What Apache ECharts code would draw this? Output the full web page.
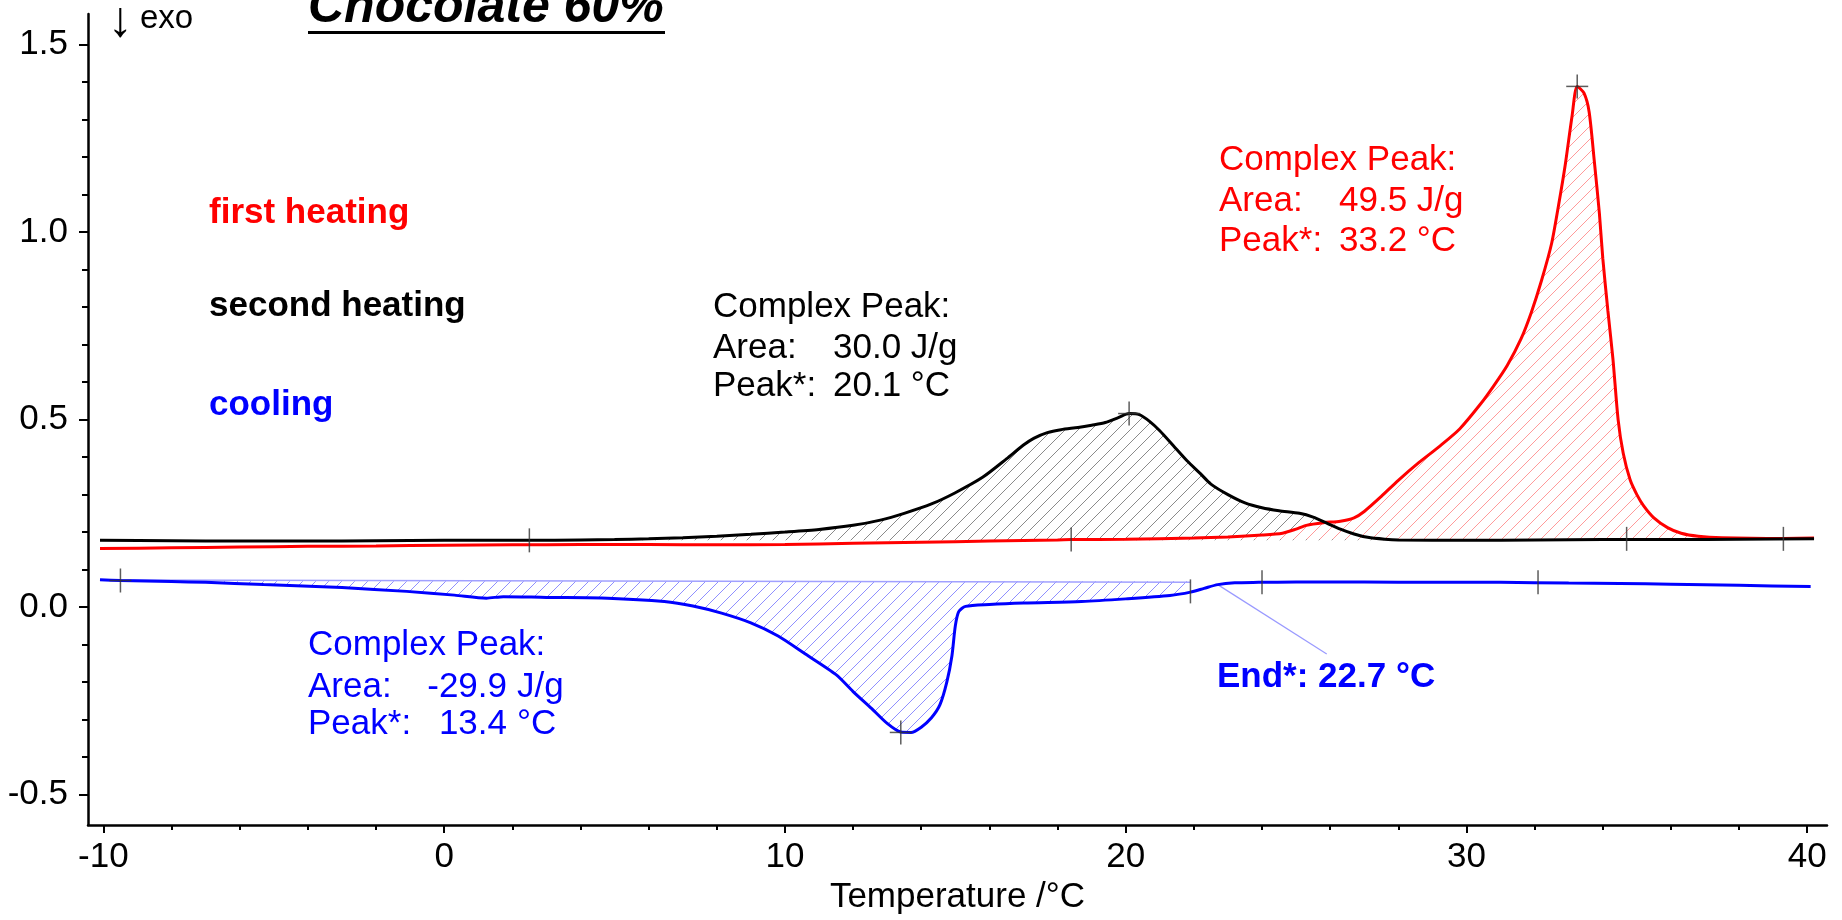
<!DOCTYPE html>
<html>
<head>
<meta charset="utf-8">
<script src="https://cdn.jsdelivr.net/npm/echarts@6/dist/echarts.min.js"></script>
<style>html,body{margin:0;padding:0;background:#fff}#c{width:1842px;height:920px}</style>
</head>
<body>
<div id="c"></div>
<script>
// ---- tick labels / ticks ----
const xTickLabels = [-10, 0, 10, 20, 30, 40];
const xMinorTicks = [-10, -8, -6, -4, -2, 0, 2, 4, 6, 8, 10, 12, 14, 16, 18, 20, 22, 24, 26, 28, 30, 32, 34, 36, 38, 40];
const yTickLabels = [-0.5, 0, 0.5, 1.0, 1.5];
const yMinorTicks = [-0.5, -0.4, -0.3, -0.2, -0.1, 0, 0.1, 0.2, 0.3, 0.4, 0.5, 0.6, 0.7, 0.8, 0.9, 1.0, 1.1, 1.2, 1.3, 1.4, 1.5];

// ---- series values: [temperature °C, DSC signal] ----
const firstHeating = [
  [-10.1,0.156],[-8,0.158],[-6,0.16],[-4,0.162],[-2,0.163],[0,0.165],[2,0.166],[4,0.167],[6,0.167],[8,0.166],
  [10,0.167],[12,0.17],[14,0.173],[16,0.176],[18,0.179],[18.4,0.18],[20,0.181],[22,0.184],[23,0.187],[24,0.192],
  [24.6,0.197],[25,0.208],[25.3,0.218],[25.8,0.225],[26.3,0.229],[26.7,0.238],[27,0.255],[27.5,0.295],[28,0.338],
  [28.6,0.385],[29.2,0.428],[29.8,0.475],[30.4,0.54],[30.8,0.59],[31.2,0.645],[31.6,0.715],[31.9,0.785],[32.2,0.87],
  [32.5,0.97],[32.7,1.07],[32.9,1.18],[33.1,1.31],[33.25,1.388],[33.45,1.37],[33.6,1.32],[33.75,1.19],[33.9,1.05],
  [34.0,0.93],[34.15,0.79],[34.3,0.66],[34.45,0.5],[34.6,0.41],[34.8,0.34],[35.0,0.3],[35.2,0.27],[35.5,0.238],
  [35.9,0.212],[36.3,0.197],[36.8,0.189],[37.5,0.185],[39.3,0.183],[40.2,0.184]
];
const secondHeating = [
  [-10.1,0.178],[-8,0.177],[-6,0.176],[-4,0.176],[-2,0.177],[0,0.178],[2,0.178],[2.5,0.178],[4,0.179],[5,0.18],
  [6,0.182],[7,0.185],[8,0.189],[9,0.194],[10,0.2],[11,0.207],[12,0.218],[12.8,0.232],[13.5,0.25],[14.3,0.275],
  [15,0.305],[15.8,0.346],[16.5,0.395],[17,0.432],[17.3,0.45],[17.7,0.465],[18.1,0.473],[18.6,0.479],[19,0.485],
  [19.4,0.492],[19.8,0.506],[20.1,0.516],[20.4,0.513],[20.7,0.495],[21,0.47],[21.4,0.43],[21.8,0.39],[22.2,0.355],
  [22.5,0.328],[23,0.3],[23.5,0.278],[24,0.265],[24.5,0.257],[25.1,0.25],[25.5,0.24],[25.9,0.224],[26.3,0.208],
  [26.7,0.195],[27.1,0.186],[27.6,0.181],[28,0.179],[30,0.178],[32,0.179],[34,0.18],[36,0.18],[38,0.181],[40.2,0.182]
];
const cooling = [
  [-10.1,0.073],[-9.5,0.071],[-8,0.068],[-7,0.066],[-5.3,0.06],[-3,0.052],[-1.1,0.042],[0.3,0.032],[1.24,0.024],
  [1.74,0.028],[3,0.026],[4.8,0.024],[6.46,0.015],[7.3,0.003],[8.14,-0.016],[9,-0.042],[9.8,-0.077],[10.6,-0.125],
  [11.5,-0.18],[12,-0.225],[12.54,-0.27],[13,-0.31],[13.4,-0.333],[13.7,-0.334],[14,-0.32],[14.3,-0.295],
  [14.55,-0.26],[14.75,-0.2],[14.9,-0.13],[15,-0.05],[15.1,-0.012],[15.3,0.002],[16,0.007],[17,0.011],[18.7,0.015],
  [20,0.022],[21.3,0.031],[21.9,0.04],[22.3,0.05],[22.7,0.06],[23.2,0.065],[23.9,0.066],[25,0.067],[27,0.067],
  [29,0.066],[31,0.066],[33,0.064],[34.5,0.063],[36,0.061],[38,0.058],[40.1,0.055]
];

// integration ranges and baselines
const secondRange = [2.5, 28];   const secondBase = 0.178;
const firstRange = [18.4, 39.3]; const firstBase = 0.181;
const coolRange = [-9.5, 21.9];  const coolBase = 0.069;
const coolBaseLine = [[-9.5, 0.072], [21.9, 0.066]];
const endLeader = [[22.7, 0.06], [25.9, -0.125]];

// evaluation marks
const peakMarks = [[20.1, 0.516], [33.25, 1.388], [13.4, -0.334], [-9.5, 0.071]];
const limitMarks = [[2.5, 0.178], [18.4, 0.18], [34.7, 0.182], [39.3, 0.182], [21.9, 0.042], [24.0, 0.066], [32.1, 0.066]];

const FONT = '"Liberation Sans", Arial, sans-serif';
const SMOOTH = 0.25;

function hatch(color) {
  const s = 13, c = document.createElement('canvas');
  c.width = s; c.height = s;
  const g = c.getContext('2d');
  g.strokeStyle = color; g.lineWidth = 1;
  g.beginPath();
  g.moveTo(0, s); g.lineTo(s, 0);
  g.moveTo(-3, 3); g.lineTo(3, -3);
  g.moveTo(s - 3, s + 3); g.lineTo(s + 3, s - 3);
  g.stroke();
  return { image: c, repeat: 'repeat' };
}
const inRange = (d, r) => d.filter(p => p[0] >= r[0] && p[0] <= r[1]);

function areaSeries(data, origin, color) {
  return {
    type: 'line', data: data, showSymbol: false, silent: true, z: 1, smooth: SMOOTH,
    lineStyle: { width: 0, opacity: 0 },
    areaStyle: { color: hatch(color), origin: origin, opacity: 1 }
  };
}
function lineSeries(name, data, color, width) {
  return { name: name, type: 'line', data: data, showSymbol: false, silent: true, z: 3, smooth: SMOOTH,
    lineStyle: { color: color, width: width }, itemStyle: { color: color } };
}

function txt(text, x, y, color, opts) {
  opts = opts || {};
  const size = opts.size || 35;
  const font = (opts.italic ? 'italic ' : '') + (opts.bold ? 'bold ' : '') + size + 'px ' + FONT;
  const align = opts.align || 'left';
  return { type: 'text', x: x, y: y, z: 10,
    style: { text: text, font: font, fill: color, align: align, verticalAlign: 'middle',
      textAlign: align, textVerticalAlign: 'middle' } };
}

const chart = echarts.init(document.getElementById('c'), null, { renderer: 'canvas' });
const option = {
  animation: false,
  backgroundColor: '#fff',
  grid: { left: 88, right: 15, top: 14, bottom: 90, containLabel: false },
  xAxis: [
    { type: 'value', min: -10.452, max: 40.58, position: 'bottom',
      axisLine: { show: true, onZero: false, lineStyle: { color: '#000', width: 2.5 } },
      axisTick: { show: true, customValues: xTickLabels, length: 8, lineStyle: { color: '#000', width: 2 } },
      axisLabel: { show: true, customValues: xTickLabels, margin: 15, fontSize: 35, fontFamily: FONT, color: '#000' },
      splitLine: { show: false },
      name: 'Temperature /°C', nameLocation: 'middle', nameGap: 54,
      nameTextStyle: { fontSize: 35, fontFamily: FONT, color: '#000' } },
    { type: 'value', min: -10.452, max: 40.58, position: 'bottom',
      axisLine: { show: false, onZero: false },
      axisTick: { show: true, customValues: xMinorTicks, length: 5, lineStyle: { color: '#000', width: 2 } },
      axisLabel: { show: false }, splitLine: { show: false } }
  ],
  yAxis: [
    { type: 'value', min: -0.581, max: 1.581, position: 'left',
      axisLine: { show: true, onZero: false, lineStyle: { color: '#000', width: 2.5 } },
      axisTick: { show: true, customValues: yTickLabels, length: 9, lineStyle: { color: '#000', width: 2 } },
      axisLabel: { show: true, customValues: yTickLabels, formatter: v => Number(v).toFixed(1), margin: 20,
        fontSize: 35, fontFamily: FONT, color: '#000' },
      splitLine: { show: false } },
    { type: 'value', min: -0.581, max: 1.581, position: 'left',
      axisLine: { show: false, onZero: false },
      axisTick: { show: true, customValues: yMinorTicks, length: 6, lineStyle: { color: '#000', width: 2 } },
      axisLabel: { show: false }, splitLine: { show: false } }
  ],
  series: [
    areaSeries(inRange(cooling, coolRange), coolBase, '#8f8fff'),
    areaSeries(inRange(secondHeating, secondRange), secondBase, '#8a8a8a'),
    areaSeries(inRange(firstHeating, firstRange), firstBase, '#ff9a9a'),
    { type: 'line', data: coolBaseLine, showSymbol: false, silent: true, z: 2,
      lineStyle: { color: '#a0a0ff', width: 1.5 } },
    { type: 'line', data: endLeader, showSymbol: false, silent: true, z: 2,
      lineStyle: { color: '#9a9aff', width: 1.2 } },
    lineSeries('first heating', firstHeating, '#ff0000', 3),
    lineSeries('second heating', secondHeating, '#000000', 3),
    lineSeries('cooling', cooling, '#0000ff', 3),
    { type: 'scatter', data: peakMarks, symbol: 'rect', symbolSize: [22, 1.5], silent: true, z: 5,
      itemStyle: { color: '#333' } },
    { type: 'scatter', data: peakMarks, symbol: 'rect', symbolSize: [1.5, 24], silent: true, z: 5,
      itemStyle: { color: '#333' } },
    { type: 'scatter', data: limitMarks, symbol: 'rect', symbolSize: [1.5, 24], silent: true, z: 5,
      itemStyle: { color: '#333' } }
  ],
  graphic: [
    txt('Chocolate 60%', 308, 8, '#000', { size: 50, bold: true, italic: true }),
    { type: 'rect', z: 10, shape: { x: 308, y: 31, width: 357, height: 3 }, style: { fill: '#000' } },
    txt('↓', 108, 22, '#000', { size: 50 }),
    txt('exo', 140, 19, '#000', { size: 33 }),
    txt('first heating', 209, 213, '#ff0000', { bold: true }),
    txt('second heating', 209, 306, '#000000', { bold: true }),
    txt('cooling', 209, 405, '#0000ff', { bold: true }),

    txt('Complex Peak:', 713, 307, '#000'),
    txt('Area:', 713, 348, '#000'),
    txt('30.0 J/g', 833, 348, '#000'),
    txt('Peak*:', 713, 386, '#000'),
    txt('20.1 °C', 833, 386, '#000'),

    txt('Complex Peak:', 1219, 160, '#ff0000'),
    txt('Area:', 1219, 201, '#ff0000'),
    txt('49.5 J/g', 1339, 201, '#ff0000'),
    txt('Peak*:', 1219, 241, '#ff0000'),
    txt('33.2 °C', 1339, 241, '#ff0000'),

    txt('Complex Peak:', 308, 645, '#0000ff'),
    txt('Area:', 308, 687, '#0000ff'),
    txt('-29.9', 507, 687, '#0000ff', { align: 'right' }),
    txt('J/g', 517, 687, '#0000ff'),
    txt('Peak*:', 308, 724, '#0000ff'),
    txt('13.4', 507, 724, '#0000ff', { align: 'right' }),
    txt('°C', 517, 724, '#0000ff'),

    txt('End*: 22.7 °C', 1217, 677, '#0000ff', { bold: true })
  ]
};
chart.setOption(option);
</script>
</body>
</html>
